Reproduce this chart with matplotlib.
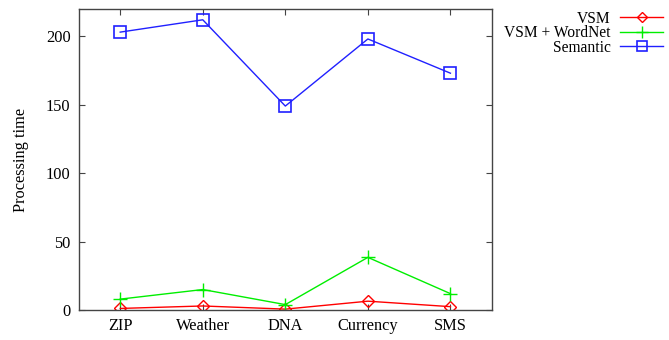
import matplotlib
matplotlib.use("Agg")
import matplotlib.pyplot as plt

categories = ["ZIP", "Weather", "DNA", "Currency", "SMS"]
vsm = [1.2, 3.0, 0.7, 6.5, 2.5]
vsm_wordnet = [8.0, 15.0, 4.0, 38.5, 12.0]
semantic = [203.0, 212.0, 149.0, 198.0, 173.0]

plt.rcParams["font.family"] = ["Liberation Serif", "DejaVu Serif"]
plt.rcParams["font.size"] = 11.8

fig = plt.figure(figsize=(6.69, 3.40), dpi=100)
ax = fig.add_axes([0.118, 0.088, 0.617, 0.886])

x = list(range(len(categories)))
ax.plot(x, vsm, color="#ff0000", lw=1.0, marker="D", markersize=6,
        markerfacecolor="none", markeredgecolor="#ff0000", markeredgewidth=1.0,
        label="VSM")
ax.plot(x, vsm_wordnet, color="#00ee00", lw=1.0, marker="+", markersize=10,
        markeredgewidth=1.0, label="VSM + WordNet")
ax.plot(x, semantic, color="#2020ff", lw=1.0, marker="s", markersize=8,
        markerfacecolor="none", markeredgecolor="#2020ff", markeredgewidth=1.2,
        label="Semantic")

ax.set_xlim(-0.5, 4.5)
ax.set_ylim(0, 220)
ax.set_xticks(x)
ax.set_xticklabels(categories)
ax.set_yticks([0, 50, 100, 150, 200])
ax.tick_params(direction="in", top=True, right=True, length=4, width=0.8,
               color="#444444", pad=6)
for s in ax.spines.values():
    s.set_color("#444444")
    s.set_linewidth(1.0)
ax.set_ylabel("Processing time", labelpad=12)

fig.legend(loc="upper right", bbox_to_anchor=(1.008, 1.0), markerfirst=False,
           frameon=False, fontsize=11.2, handlelength=2.8, handletextpad=0.6,
           labelspacing=-0.1, borderpad=0.2, markerscale=0.85)

fig.savefig("out.png", dpi=100)
